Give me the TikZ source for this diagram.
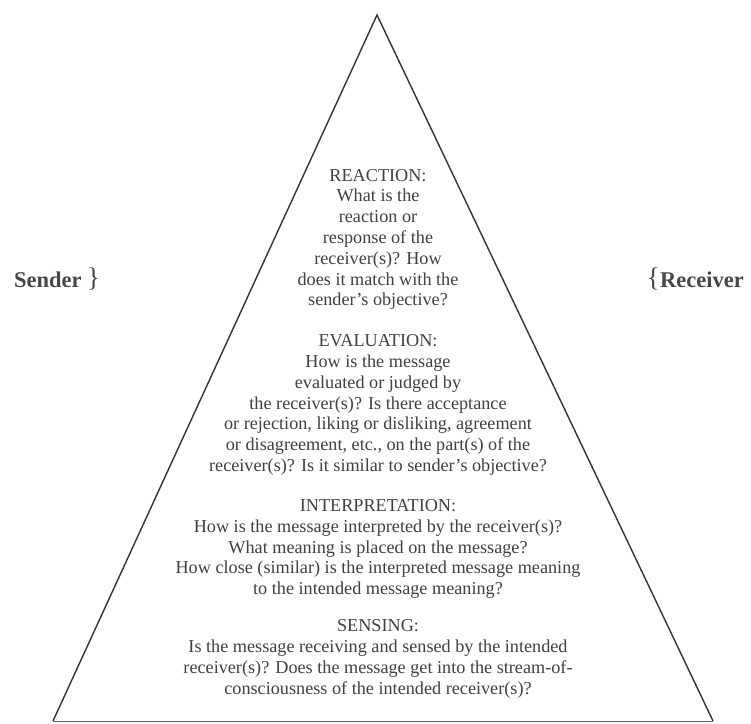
\documentclass[tikz,border=0pt]{standalone}
\usepackage{fontspec}
\setmainfont{Liberation Serif}
\begin{document}
\begin{tikzpicture}[x=1pt,y=-1pt,
  ink/.style={draw=black!80, line width=1.4pt, line join=miter},
  level/.style={text=black!75, align=center, inner sep=0pt,
    font=\fontsize{18.2}{20.8}\selectfont},
  side/.style={text=black!72, inner sep=0pt,
    font=\fontsize{22.5}{24}\selectfont\bfseries},
  brace/.style={text=black!72, inner sep=0pt,
    font=\fontsize{27}{27}\selectfont}]
  \useasboundingbox (0,0) rectangle (751,723);
  % pyramid outline
  \coordinate (apex) at (377,15);
  \coordinate (bl) at (53,721);
  \coordinate (br) at (713,721);
  \draw[ink] (bl) -- (apex) -- (br);
  \draw[draw=black!60, line width=1pt] (bl) -- (br);
  % levels, top to bottom
  \node[level] (reaction) at (378,239.5) {REACTION:\\What is the\\reaction or\\response of the\\receiver(s)? How\\does it match with the\\sender's objective?};
  \node[level] (evaluation) at (378,405) {EVALUATION:\\How is the message\\evaluated or judged by\\the receiver(s)? Is there acceptance\\or rejection, liking or disliking, agreement\\or disagreement, etc., on the part(s) of the\\receiver(s)? Is it similar to sender's objective?};
  \node[level] (interpretation) at (378,549) {INTERPRETATION:\\How is the message interpreted by the receiver(s)?\\What meaning is placed on the message?\\How close (similar) is the interpreted message meaning\\to the intended message meaning?};
  \node[level] (sensing) at (378,659) {SENSING:\\Is the message receiving and sensed by the intended\\receiver(s)? Does the message get into the stream-of-\\consciousness of the intended receiver(s)?};
  % parties on either side
  \node[side, anchor=west] (sender) at (14,280) {Sender};
  \node[brace, anchor=west] (senderbrace) at (87,279) {\}};
  \node[side, anchor=east] (receiver) at (744,280) {Receiver};
  \node[brace, anchor=east] (receiverbrace) at (660,279) {\{};
\end{tikzpicture}
\end{document}
